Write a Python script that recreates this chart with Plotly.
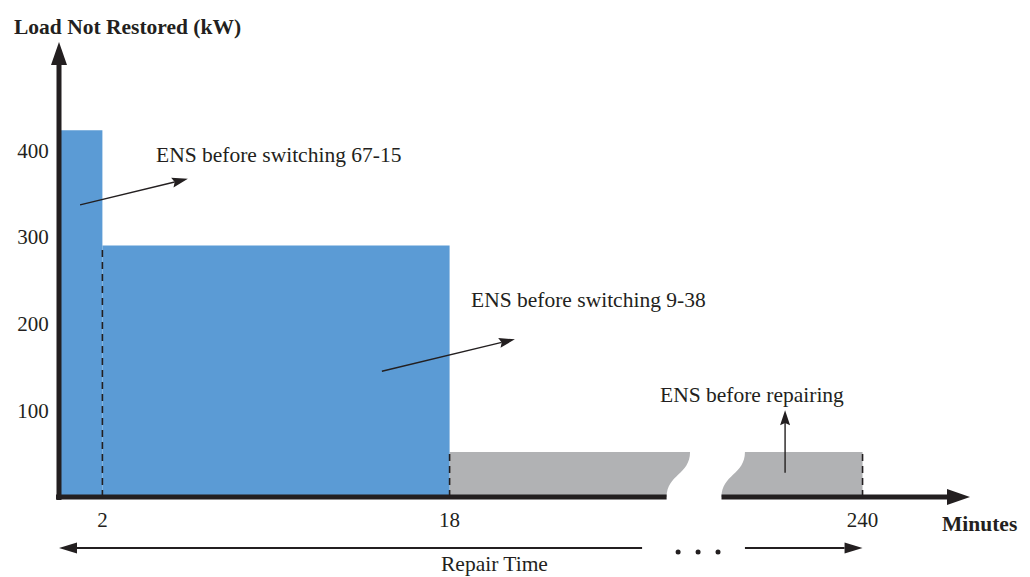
import math
import plotly.graph_objects as go

# ---------------- data ----------------
times = [0, 2, 18, 240]          # minutes: boundaries of the outage stages
loads = [423, 290, 52]           # kW not restored during each stage
stage_colors = ["#5b9bd5", "#5b9bd5", "#b1b2b4"]
ytick_vals = [100, 200, 300, 400]
xtick_vals = [2, 18, 240]
xtick_text = ["2", "18", "240"]
break_start = 28.0               # minute where the time axis is cut
break_end = 233.5                # minute where the time axis resumes

# ---------------- layout constants ----------------
OFF = 8                          # page body margin of the html page
W, H = 1030 - OFF, 577 - OFF
X0_PX, Y0_PX = 59 - OFF, 497 - OFF   # origin in figure pixels
XS, YS = 21.7, 0.867             # px per minute (display), px per kW
GAP = 2.53                       # display width of the axis break
SLANT = 1.08                     # horizontal lean of the wavy break edge
INK = "#231f20"
FONT = "Liberation Serif"

SHIFT = break_end - (break_start + GAP)


def disp(t):
    """time -> display coordinate on the broken axis"""
    return t if t <= break_start else t - SHIFT


def to_px(x, y):
    return X0_PX + x * XS, Y0_PX - y * YS


def to_data(px, py):
    """page pixel -> data"""
    return (px - OFF - X0_PX) / XS, (Y0_PX - (py - OFF)) / YS


def fig_to_data(px, py):
    return (px - X0_PX) / XS, (Y0_PX - py) / YS


shapes = []


def arrow(x0, y0, x1, y1, lw, hl, hw, notch=1.0):
    p0x, p0y = to_px(x0, y0)
    p1x, p1y = to_px(x1, y1)
    dx, dy = p1x - p0x, p1y - p0y
    L = math.hypot(dx, dy)
    ux, uy = dx / L, dy / L
    nx, ny = -uy, ux
    bx, by = p1x - ux * hl, p1y - uy * hl
    kx, ky = p1x - ux * hl * notch, p1y - uy * hl * notch
    c1 = fig_to_data(bx + nx * hw / 2, by + ny * hw / 2)
    c2 = fig_to_data(bx - nx * hw / 2, by - ny * hw / 2)
    k = fig_to_data(kx, ky)
    shapes.append(dict(type="line", x0=x0, y0=y0, x1=k[0], y1=k[1],
                       line=dict(color=INK, width=lw)))
    shapes.append(dict(type="path",
                       path=f"M{x1},{y1} L{c1[0]},{c1[1]} L{k[0]},{k[1]} L{c2[0]},{c2[1]} Z",
                       fillcolor=INK, line=dict(width=0)))


fig = go.Figure()

# blue stages (before switching)
fig.add_trace(go.Bar(
    x=[(disp(times[i]) + disp(times[i + 1])) / 2 for i in range(2)],
    y=loads[:2],
    width=[disp(times[i + 1]) - disp(times[i]) for i in range(2)],
    marker=dict(color=stage_colors[:2], line=dict(width=0)),
    hoverinfo="skip", showlegend=False,
))

# grey stage (before repairing), drawn with the axis break
g = loads[2]
xa, xb = disp(times[2]), break_start
xc, xd = disp(break_end), disp(times[3])
shapes.append(dict(type="path", layer="below",
                   path=(f"M{xa},0 L{xa},{g} L{xb + SLANT},{g} "
                         f"C{xb + SLANT},{g / 2} {xb},{g / 2} {xb},0 Z"),
                   fillcolor=stage_colors[2], line=dict(width=0)))
shapes.append(dict(type="path", layer="below",
                   path=(f"M{xc},0 C{xc},{g / 2} {xc + SLANT},{g / 2} {xc + SLANT},{g} "
                         f"L{xd},{g} L{xd},0 Z"),
                   fillcolor=stage_colors[2], line=dict(width=0)))

# dashed stage boundaries
for t, h in [(times[1], loads[1]), (times[2], loads[2]), (times[3], loads[2])]:
    shapes.append(dict(type="line", x0=disp(t), x1=disp(t), y0=0, y1=h,
                       line=dict(color=INK, width=1.6, dash="7px,5px")))

# axes (drawn as thick arrows)
ex, _ = to_data(59 - 3, 0)
shapes.append(dict(type="line", x0=ex, x1=break_start, y0=0, y1=0,
                   line=dict(color=INK, width=5)))
xtip, _ = to_data(970, 0)
arrow(disp(break_end), 0, xtip, 0, 5, 23, 16)
_, ybot = to_data(0, 497 + 3)
_, ytip = to_data(0, 42)
arrow(0, ybot, 0, ytip, 5, 23, 16)

# pointer arrows
arrow(0.97, 337, 5.94, 367, 1.4, 16, 10, 0.85)
arrow(14.88, 145, 21.01, 182, 1.4, 16, 10, 0.85)
arrow(33.46, 28, 33.46, 100, 1.4, 15, 10, 0.85)

# repair time arrow
_, yr = to_data(0, 548)
arrow(26.87, yr, 0, yr, 2, 18, 11)
arrow(31.61, yr, disp(times[3]), yr, 2, 18, 11)
_, yd = to_data(0, 552)
fig.add_trace(go.Scatter(x=[28.53, 29.45, 30.37], y=[yd] * 3, mode="markers",
                         marker=dict(size=5, color=INK), hoverinfo="skip",
                         showlegend=False))


def px_(x):
    return (x - OFF) / W


def py_(y):
    return 1 - (y - OFF) / H


annotations = [
    dict(text="<b>Load Not Restored (kW)</b>", x=px_(12), y=py_(26.5),
         xanchor="left", yanchor="middle"),
    dict(text="ENS before switching 67-15", x=px_(154), y=py_(155),
         xanchor="left", yanchor="middle"),
    dict(text="ENS before switching 9-38", x=px_(469), y=py_(300),
         xanchor="left", yanchor="middle"),
    dict(text="ENS before repairing", x=px_(658), y=py_(395),
         xanchor="left", yanchor="middle"),
    dict(text="<b>Minutes</b>", x=px_(1019), y=py_(523.5),
         xanchor="right", yanchor="middle"),
    dict(text="Repair Time", x=px_(494), y=py_(564),
         xanchor="center", yanchor="middle"),
]
for a in annotations:
    a.update(xref="paper", yref="paper", showarrow=False,
             font=dict(family=FONT, size=21.5, color=INK))

fig.update_layout(
    width=W, height=H,
    margin=dict(l=0, r=0, t=0, b=0),
    paper_bgcolor="white", plot_bgcolor="white",
    shapes=shapes, annotations=annotations,
    xaxis=dict(range=[-X0_PX / XS, (W - X0_PX) / XS], domain=[0, 1],
               showgrid=False, zeroline=False, showline=False,
               tickvals=[disp(v) for v in xtick_vals], ticktext=xtick_text,
               ticks="outside", ticklen=4, tickcolor="rgba(0,0,0,0)",
               tickfont=dict(family=FONT, size=21, color=INK),
               anchor="free", position=(H - Y0_PX) / H, fixedrange=True),
    yaxis=dict(range=[-(H - Y0_PX) / YS, Y0_PX / YS], domain=[0, 1],
               showgrid=False, zeroline=False, showline=False,
               tickvals=ytick_vals,
               ticks="outside", ticklen=6, tickcolor="rgba(0,0,0,0)",
               tickfont=dict(family=FONT, size=21, color=INK),
               anchor="free", position=X0_PX / W, fixedrange=True),
    showlegend=False,
)

fig.write_html("out.html")
